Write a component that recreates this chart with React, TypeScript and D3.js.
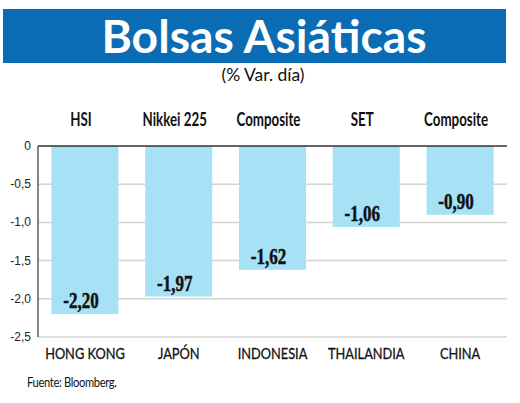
import React from "react";
import * as d3 from "d3";

const countries = ["HONG KONG", "JAPÓN", "INDONESIA", "THAILANDIA", "CHINA"];
const indices = ["HSI", "Nikkei 225", "Composite", "SET", "Composite"];
const values = [-2.2, -1.97, -1.62, -1.06, -0.9];
const valueLabels = ["-2,20", "-1,97", "-1,62", "-1,06", "-0,90"];
const yTicks = [0, -0.5, -1.0, -1.5, -2.0, -2.5];
const yTickLabels = ["0", "-0,5", "-1,0", "-1,5", "-2,0", "-2,5"];

const W = 520;
const H = 403;
const plotLeft = 38;
const plotRight = 507;
const plotTop = 146;
const plotBottom = 337;

const sans = "Lato, 'Open Sans', sans-serif";

function CText(props: {
  x: number;
  y: number;
  sx: number;
  anchor?: string;
  size: number;
  weight?: number;
  family?: string;
  children: React.ReactNode;
  spacing?: number;
  stroke?: number;
}) {
  return (
    <g transform={`translate(${props.x},${props.y}) scale(${props.sx},1)`}>
      <text
        x={0}
        y={0}
        textAnchor={props.anchor ?? "middle"}
        fill="#111"
        stroke={props.stroke ? "#111" : "none"}
        strokeWidth={props.stroke ?? 0}
        fontFamily={props.family ?? sans}
        fontWeight={props.weight ?? 400}
        fontSize={props.size}
        letterSpacing={props.spacing ?? 0}
      >
        {props.children}
      </text>
    </g>
  );
}

export default function App() {
  const x = d3
    .scaleBand<string>()
    .domain(countries.map((_, i) => String(i)))
    .range([plotLeft, plotRight])
    .paddingInner(0.285)
    .paddingOuter(0.143);
  const y = d3.scaleLinear().domain([0, -2.5]).range([plotTop, plotBottom]);
  const cx = (i: number) => (x(String(i)) as number) + x.bandwidth() / 2;

  return (
    <svg
      width={W}
      height={H}
      viewBox={`0 0 ${W} ${H}`}
      style={{ position: "absolute", left: 0, top: 0, background: "#fff" }}
    >
      <rect x={0} y={0} width={W} height={H} fill="#fff" />
      <rect x={3} y={9} width={503} height={54} fill="#0a6cb4" />
      <text
        x={264}
        y={53}
        textAnchor="middle"
        fill="#fff"
        fontFamily={sans}
        fontWeight={700}
        fontSize={45}
        textLength={325}
        lengthAdjust="spacingAndGlyphs"
      >
        Bolsas Asiáticas
      </text>
      <text
        x={263}
        y={81}
        textAnchor="middle"
        fill="#111"
        fontFamily={sans}
        fontSize={17}
        textLength={83}
        lengthAdjust="spacingAndGlyphs"
      >
        (% Var. día)
      </text>

      {/* grid lines */}
      {yTicks.slice(1).map((t) => (
        <line
          key={t}
          x1={plotLeft}
          x2={plotRight}
          y1={y(t)}
          y2={y(t)}
          stroke="#d4d4d4"
          strokeWidth={1.5}
        />
      ))}

      {/* bars */}
      {values.map((v, i) => (
        <rect
          key={i}
          x={x(String(i))}
          y={y(0)}
          width={x.bandwidth()}
          height={y(v) - y(0)}
          fill="#a6e1f6"
        />
      ))}

      {/* zero line & axis */}
      <line x1={plotLeft} x2={plotRight} y1={y(0)} y2={y(0)} stroke="#333" strokeWidth={1.5} />
      <line x1={plotLeft} x2={plotLeft} y1={y(0)} y2={y(-2.5)} stroke="#333" strokeWidth={1.2} />

      {yTicks.map((t, i) => (
        <text
          key={t}
          x={31}
          y={y(t) + 4}
          textAnchor="end"
          fill="#222"
          fontFamily="'Liberation Sans', Arial, sans-serif"
          fontSize={12}
        >
          {yTickLabels[i]}
        </text>
      ))}

      {/* value labels */}
      {values.map((v, i) => (
        <CText
          key={i}
          x={cx(i) - 4}
          y={y(v) - 6}
          sx={0.74}
          size={23}
          weight={700}
          stroke={0.5}
          family="'Liberation Serif', 'DejaVu Serif', serif"
        >
          {valueLabels[i]}
        </CText>
      ))}

      {/* top index labels */}
      {indices.map((s, i) => (
        <CText key={i} x={cx(i) - 4} y={126} sx={0.74} size={18} weight={700}>
          {s}
        </CText>
      ))}

      {/* bottom country labels */}
      {countries.map((s, i) => (
        <CText key={i} x={cx(i)} y={359} sx={0.8} size={16} stroke={0.3}>
          {s}
        </CText>
      ))}

      <CText x={27} y={387} sx={0.86} size={13} anchor="start" spacing={-0.4}>
        Fuente: Bloomberg.
      </CText>
    </svg>
  );
}
